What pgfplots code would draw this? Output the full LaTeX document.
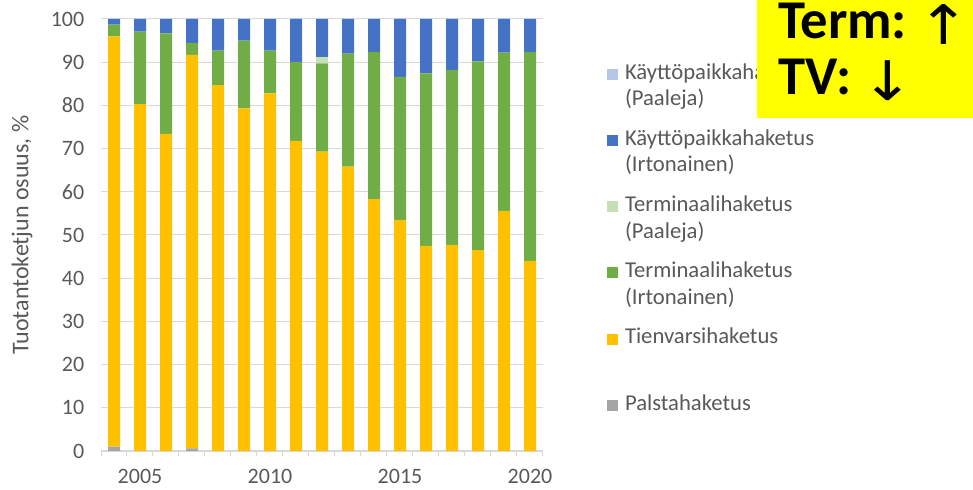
\documentclass[border=0pt]{standalone}
\usepackage{fontspec}
\setmainfont{Carlito}
\newfontfamily\arrowfont{DejaVu Sans}
\usepackage{pgfplots}
\usepackage{pgfplotstable}
\pgfplotsset{compat=1.18}

\definecolor{cPalsta}{HTML}{A5A5A5}
\definecolor{cTienvarsi}{HTML}{FFC000}
\definecolor{cTermIrt}{HTML}{70AD47}
\definecolor{cTermPaal}{HTML}{C5E0B4}
\definecolor{cKayttoIrt}{HTML}{4472C4}
\definecolor{cKayttoPaal}{HTML}{B4C7E7}
\definecolor{labelgray}{HTML}{595959}
\definecolor{gridgray}{HTML}{D9D9D9}
\definecolor{highlight}{HTML}{FFFF00}

% Tuotantoketjujen osuudet vuosittain, %
\pgfplotstableread{
year palsta tienvarsi termirt termpaal kayttoirt kayttopaal
2004 1.0 95.0  2.7 0.0  1.3 0
2005 0.0 80.3 16.8 0.0  2.9 0
2006 0.0 73.4 23.3 0.0  3.3 0
2007 0.6 91.1  2.7 0.0  5.6 0
2008 0.0 84.7  8.0 0.0  7.3 0
2009 0.0 79.3 15.7 0.0  5.0 0
2010 0.0 82.8  9.9 0.0  7.3 0
2011 0.0 71.8 18.3 0.0  9.9 0
2012 0.0 69.3 20.4 1.5  8.8 0
2013 0.0 65.8 26.2 0.0  8.0 0
2014 0.0 58.3 34.1 0.0  7.6 0
2015 0.0 53.5 33.1 0.0 13.4 0
2016 0.0 47.5 39.9 0.0 12.6 0
2017 0.0 47.7 40.5 0.0 11.8 0
2018 0.0 46.5 43.7 0.0  9.8 0
2019 0.0 55.6 36.6 0.0  7.8 0
2020 0.0 44.0 48.4 0.0  7.6 0
}\osuudet

% ohut nuoli huomiolaatikkoon
\newcommand\nuoli[1]{{\arrowfont\mdseries\fontsize{41}{44}\selectfont\raisebox{-4pt}{\scalebox{1.15}[1]{#1}}}}

\begin{document}
\begin{tikzpicture}
\path[use as bounding box] (0,0) rectangle (729.75pt,366.75pt);
\begin{axis}[
  at={(75.75pt,28.5pt)}, anchor=south west,
  scale only axis, width=331.5pt, height=324pt,
  ybar stacked, bar width=9pt,
  xmin=2003.5, xmax=2020.5, ymin=0, ymax=100,
  axis x line*=bottom, axis y line*=left,
  y axis line style={draw=none},
  x axis line style={draw=gridgray, line width=0.9pt},
  xtick={2005,2010,2015,2020},
  minor xtick={2003.5,2004.5,...,2020.5},
  ytick={0,10,...,100},
  major tick length=0pt, minor tick length=4pt,
  tick align=outside,
  minor x tick style={draw=gridgray, line width=0.75pt},
  ymajorgrids, grid style={draw=gridgray, line width=0.75pt},
  /pgf/number format/assume math mode=true,
  /pgf/number format/set thousands separator={},
  xticklabel style={font=\fontsize{16.5}{20}\selectfont, text=labelgray, yshift=-10pt},
  yticklabel style={font=\fontsize{16.5}{20}\selectfont, text=labelgray, xshift=-9pt},
  ylabel={Tuotantoketjun osuus, \%},
  every axis y label/.style={at={(axis description cs:-0.1787,0.5)}, rotate=90, anchor=center,
    font=\fontsize{18}{20}\selectfont, text=labelgray},
  legend cell align=left,
  reverse legend,
  legend image code/.code={\fill[#1] (0pt,-0.5pt) rectangle (8.25pt,7.75pt); \path (13.5pt,0pt);},
  legend style={at={(axis description cs:1.1448,0.898)}, anchor=north west,
    draw=none, fill=none, inner sep=0pt, outer sep=0pt, row sep=0pt, column sep=0pt,
    cells={anchor=base west},
    nodes={font=\fontsize{17}{20}\selectfont, text=labelgray, text width=170pt, align=left,
      text height=12pt, text depth=37.65pt, inner sep=0pt}},
  every axis plot/.append style={draw=none},
]
\addplot[fill=cPalsta] table[x=year, y=palsta] {\osuudet};
\addlegendentry{Palstahaketus}
\addplot[fill=cTienvarsi] table[x=year, y=tienvarsi] {\osuudet};
\addlegendentry{Tienvarsihaketus}
\addplot[fill=cTermIrt] table[x=year, y=termirt] {\osuudet};
\addlegendentry{Terminaalihaketus\\(Irtonainen)}
\addplot[fill=cTermPaal] table[x=year, y=termpaal] {\osuudet};
\addlegendentry{Terminaalihaketus\\(Paaleja)}
\addplot[fill=cKayttoIrt] table[x=year, y=kayttoirt] {\osuudet};
\addlegendentry{Käyttöpaikkahaketus\\(Irtonainen)}
\addplot[fill=cKayttoPaal] table[x=year, y=kayttopaal] {\osuudet};
\addlegendentry{Käyttöpaikkahaketus\\(Paaleja)}
\end{axis}
% Huomiolaatikko
\fill[highlight] (567.75pt,278.25pt) rectangle (729.75pt,366.75pt);
\node[anchor=base west, inner sep=0pt, text height=26pt, text depth=4pt,
  font=\fontsize{41}{42}\selectfont\bfseries]
  at (583.5pt,337.5pt) {Term:\kern8pt\nuoli{↑}};
\node[anchor=base west, inner sep=0pt, text height=26pt, text depth=4pt,
  font=\fontsize{41}{42}\selectfont\bfseries]
  at (583.5pt,295.5pt) {TV:\kern8pt\nuoli{↓}};
\end{tikzpicture}
\end{document}
